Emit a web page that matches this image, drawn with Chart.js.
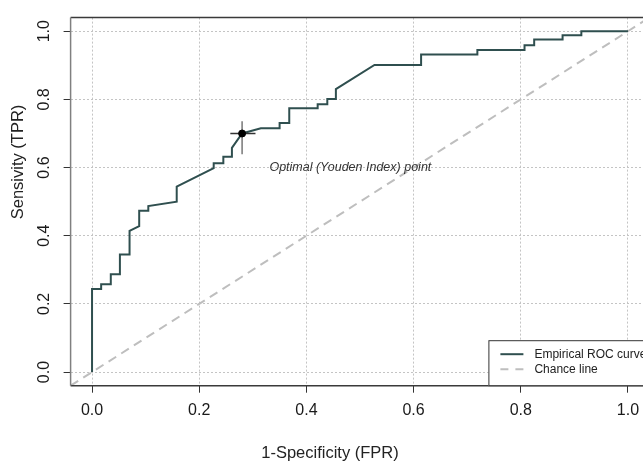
<!DOCTYPE html>
<html>
<head>
<meta charset="utf-8">
<script src="https://cdn.jsdelivr.net/npm/chart.js@4/dist/chart.umd.min.js"></script>
<style>
  html, body { margin: 0; padding: 0; background: #fff; overflow: hidden; }
  #wrap { width: 660px; height: 468px; }
</style>
</head>
<body>
<div id="wrap"><canvas id="roc"></canvas></div>
<script>
// values
const fpr = [0, 0, 0.017, 0.017, 0.035, 0.035, 0.052, 0.052, 0.070, 0.070, 0.088, 0.088, 0.105, 0.105,
  0.158, 0.158, 0.227, 0.227, 0.245, 0.245, 0.261, 0.261, 0.280, 0.315, 0.350, 0.350, 0.368, 0.368,
  0.421, 0.421, 0.439, 0.439, 0.455, 0.455, 0.527, 0.614, 0.614, 0.719, 0.719, 0.807, 0.807,
  0.825, 0.825, 0.878, 0.878, 0.913, 0.913, 1.0];
const tpr = [0, 0.244, 0.244, 0.258, 0.258, 0.287, 0.287, 0.345, 0.345, 0.414, 0.428, 0.473, 0.473, 0.487,
  0.500, 0.544, 0.598, 0.613, 0.613, 0.632, 0.632, 0.658, 0.700, 0.715, 0.715, 0.731, 0.731, 0.774,
  0.774, 0.786, 0.786, 0.801, 0.801, 0.830, 0.901, 0.901, 0.932, 0.932, 0.945, 0.945, 0.959,
  0.959, 0.976, 0.976, 0.988, 0.988, 1.0, 1.0];
const chanceX = [-0.04, 1.04];
const chanceY = [-0.04, 1.04];
const optFpr = [0.280];
const optTpr = [0.700];
const ciFpr = [0.258, 0.305];   // horizontal arm of the cross
const ciTpr = [0.639, 0.736];   // vertical arm of the cross
const tickValues = [0, 0.2, 0.4, 0.6, 0.8, 1.0];
const tickLabels = ['0.0', '0.2', '0.4', '0.6', '0.8', '1.0'];
const axisMin = -0.04, axisMax = 1.04;

const FONT = '"Liberation Sans", Arial, Helvetica, sans-serif';
const ROC_COLOR = '#2f4f4f';
const CHANCE_COLOR = '#bebebe';

function zip(xs, ys){
  return xs.map((x, i) => ({ x, y: ys[i] }));
}

// box round the plot region, like R's box()
const boxPlugin = {
  id: 'box',
  afterDatasetsDraw(chart){
    const { ctx, chartArea: a } = chart;
    ctx.save();
    ctx.lineWidth = 1.5;
    ctx.strokeStyle = '#3a3a3a';
    ctx.beginPath();
    ctx.moveTo(a.left, a.top); ctx.lineTo(a.right, a.top);
    ctx.moveTo(a.left, a.bottom); ctx.lineTo(a.right, a.bottom);
    ctx.moveTo(a.right, a.top); ctx.lineTo(a.right, a.bottom);
    ctx.stroke();
    ctx.strokeStyle = '#808080';
    ctx.beginPath();
    ctx.moveTo(a.left, a.top); ctx.lineTo(a.left, a.bottom);
    ctx.stroke();
    ctx.restore();
  }
};

// note next to the optimal point
const notePlugin = {
  id: 'note',
  afterDatasetsDraw(chart){
    const { ctx, scales } = chart;
    ctx.save();
    ctx.font = 'italic 12.5px ' + FONT;
    ctx.fillStyle = '#333';
    ctx.textAlign = 'center';
    ctx.textBaseline = 'middle';
    ctx.fillText('Optimal (Youden Index) point', scales.x.getPixelForValue(0.482), scales.y.getPixelForValue(0.601));
    ctx.restore();
  }
};

// axis titles (placed where the reference has them)
const titlePlugin = {
  id: 'titles',
  afterDraw(chart){
    const { ctx } = chart;
    ctx.save();
    ctx.font = '16.5px ' + FONT;
    ctx.fillStyle = '#222';
    ctx.textAlign = 'center';
    ctx.textBaseline = 'middle';
    ctx.fillText('1-Specificity (FPR)', 330, 453);
    ctx.translate(18, 162);
    ctx.rotate(-Math.PI / 2);
    ctx.fillText('Sensivity (TPR)', 0, 0);
    ctx.restore();
  }
};

// legend box in the bottom-right corner
const legendPlugin = {
  id: 'rlegend',
  afterDraw(chart){
    const { ctx, chartArea: a } = chart;
    const left = a.right - 161, top = a.bottom - 45.5;
    ctx.save();
    ctx.fillStyle = '#fff';
    ctx.fillRect(left, top, 200, 45.5);
    ctx.strokeStyle = '#333';
    ctx.lineWidth = 1;
    ctx.strokeRect(left + 0.5, top + 0.5, 200, 45);
    ctx.lineWidth = 2;
    ctx.strokeStyle = ROC_COLOR;
    ctx.beginPath(); ctx.moveTo(left + 12, top + 14); ctx.lineTo(left + 35, top + 14); ctx.stroke();
    ctx.strokeStyle = CHANCE_COLOR;
    ctx.setLineDash([8, 7]);
    ctx.beginPath(); ctx.moveTo(left + 12, top + 29); ctx.lineTo(left + 35, top + 29); ctx.stroke();
    ctx.setLineDash([]);
    ctx.font = '12px ' + FONT;
    ctx.fillStyle = '#222';
    ctx.textBaseline = 'middle';
    ctx.fillText('Empirical ROC curve', left + 46, top + 14);
    ctx.fillText('Chance line', left + 46, top + 29);
    ctx.restore();
  }
};

function axisOpts(extra){
  return Object.assign({
    type: 'linear',
    min: axisMin,
    max: axisMax,
    afterBuildTicks: s => { s.ticks = tickValues.map(v => ({ value: v })); },
    grid: { color: '#c4c4c4', lineWidth: 1, tickLength: 7, tickColor: '#333', tickWidth: 1 },
    border: { display: false, dash: [2, 2] }
  }, extra);
}

new Chart(document.getElementById('roc'), {
  type: 'scatter',
  data: {
    datasets: [
      { label: 'Optimal point', data: zip(optFpr, optTpr), pointRadius: 3.5, pointBackgroundColor: '#000', pointBorderColor: '#000', order: 0 },
      { label: 'ci-h', data: zip(ciFpr, [optTpr[0], optTpr[0]]), showLine: true, borderColor: '#333', borderWidth: 1.5, pointRadius: 0, order: 1 },
      { label: 'ci-v', data: zip([optFpr[0], optFpr[0]], ciTpr), showLine: true, borderColor: '#777', borderWidth: 1.5, pointRadius: 0, order: 1 },
      { label: 'Empirical ROC curve', data: zip(fpr, tpr), showLine: true, borderColor: ROC_COLOR, borderWidth: 2, pointRadius: 0, tension: 0, order: 2 },
      { label: 'Chance line', data: zip(chanceX, chanceY), showLine: true, borderColor: CHANCE_COLOR, borderWidth: 2, borderDash: [9, 6], pointRadius: 0, order: 3 }
    ]
  },
  options: {
    responsive: true,
    maintainAspectRatio: false,
    animation: false,
    layout: { padding: { top: 15.3, right: 10.6, left: 0, bottom: 0 } },
    plugins: { legend: { display: false }, tooltip: { enabled: false } },
    scales: {
      x: axisOpts({
        afterFit: s => { s.height = 82.3; },
        ticks: { padding: 8, color: '#1a1a1a', font: { family: FONT, size: 16 }, maxRotation: 0, minRotation: 0, autoSkip: false,
          callback: (v, i) => tickLabels[i] }
      }),
      y: axisOpts({
        afterFit: s => { s.width = 70.6; },
        ticks: { padding: 8, color: '#1a1a1a', font: { family: FONT, size: 16 }, minRotation: 90, maxRotation: 90, crossAlign: 'center', autoSkip: false,
          callback: (v, i) => tickLabels[i] }
      })
    }
  },
  plugins: [boxPlugin, notePlugin, titlePlugin, legendPlugin]
});
</script>
</body>
</html>
